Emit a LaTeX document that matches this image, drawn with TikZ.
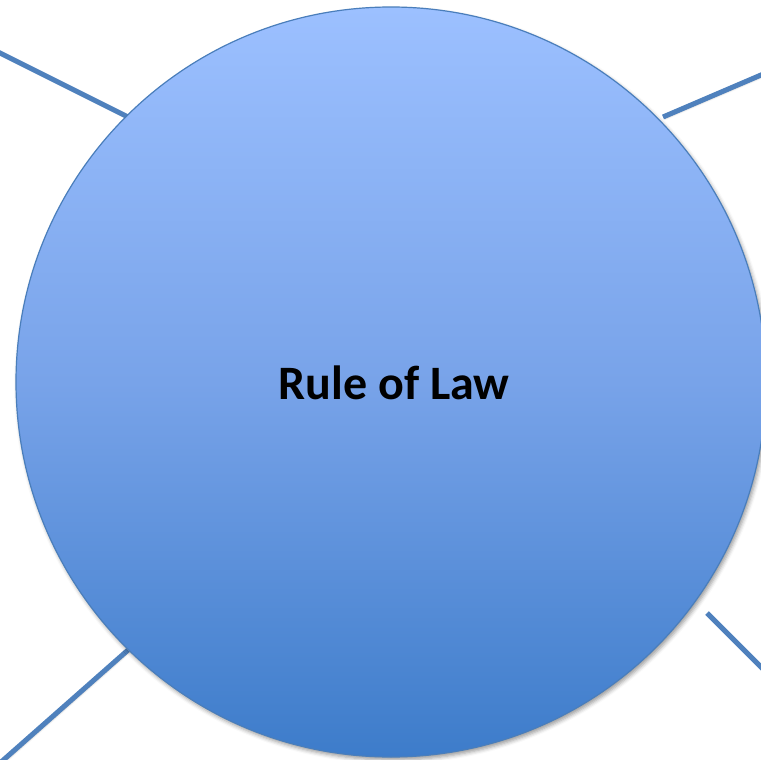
\documentclass[tikz,border=0pt]{standalone}
\usepackage{fontspec}
\setmainfont{Carlito}
\usetikzlibrary{shadows.blur}
\definecolor{linec}{HTML}{4F81BD}
\definecolor{edgec}{HTML}{4A7EBB}
\definecolor{topc}{HTML}{9CC0FF}
\definecolor{midc}{HTML}{78A3E9}
\definecolor{botc}{HTML}{3D7CCA}
\tikzset{
  spoke/.style={draw=linec, line width=5pt, blur shadow={shadow xshift=1.5pt, shadow yshift=-1.5pt, shadow blur radius=2pt, shadow opacity=35}},
  hub/.style={circle, draw=edgec, line width=1.2pt, minimum size=750pt, inner sep=0pt,
    top color=topc, bottom color=botc, middle color=midc,
    blur shadow={shadow xshift=2pt, shadow yshift=-3pt, shadow blur radius=4pt, shadow opacity=40}},
  title/.style={font=\fontsize{48}{56}\selectfont\bfseries, text=black}
}
\begin{document}
\begin{tikzpicture}[x=1pt,y=-1pt]
\useasboundingbox (0,0) rectangle (761,760);
\coordinate (tlend) at (-10,48);
\coordinate (trend) at (775,69);
\coordinate (blend) at (-8,770);
\coordinate (brend) at (775,681);
\coordinate (brstart) at (707,613);
\coordinate (tlstart) at (128,117);
\coordinate (trstart) at (663,117);
\coordinate (blstart) at (128,650);
\draw[spoke] (tlend) -- (tlstart);
\draw[spoke] (trstart) -- (trend);
\draw[spoke] (blstart) -- (blend);
\draw[spoke] (brstart) -- (brend);
\node[hub] (c) at (391,382) {};
\node[title, anchor=base] (t) at (394,399) {Rule of Law};
\end{tikzpicture}
\end{document}
